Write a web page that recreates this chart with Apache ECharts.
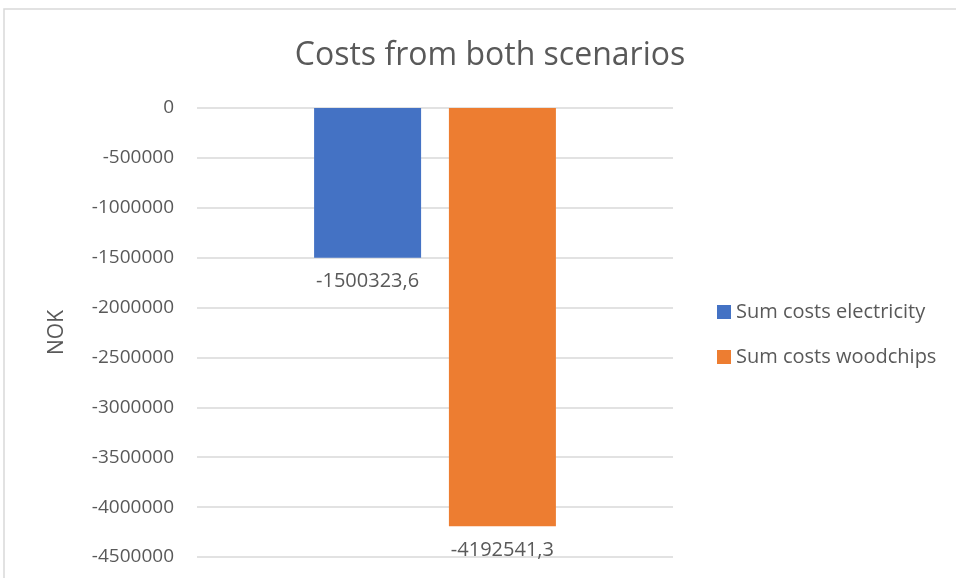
<!DOCTYPE html>
<html>
<head>
<meta charset="utf-8">
<script src="https://cdn.jsdelivr.net/npm/echarts@6/dist/echarts.min.js"></script>
<style>
  html, body { margin: 0; padding: 0; background: #fff; }
  #chart { width: 956px; height: 578px; }
</style>
</head>
<body>
<div id="chart"></div>
<script>
var categories = ['Costs'];
var electricity = [-1500323.6];
var woodchips = [-4192541.3];
var seriesNames = ['Sum costs electricity', 'Sum costs woodchips'];

var fontFam = '"Open Sans", "Noto Sans", sans-serif';
var textCol = '#595959';

function fmt(p) {
  return String(p.value).replace('.', ',');
}

var chart = echarts.init(document.getElementById('chart'));

chart.setOption({
  animation: false,
  backgroundColor: '#fff',
  graphic: [{
    type: 'rect',
    shape: { x: 4, y: 9, width: 1000, height: 600 },
    style: { fill: 'none', stroke: '#d9d9d9', lineWidth: 1.5 },
    silent: true
  }],
  title: {
    text: 'Costs from both scenarios',
    left: 485,
    textAlign: 'center',
    top: 35,
    textStyle: { fontFamily: fontFam, fontWeight: 'normal', fontSize: 32, color: textCol }
  },
  legend: {
    orient: 'vertical',
    left: 712,
    top: 297,
    itemWidth: 14,
    itemHeight: 14,
    itemGap: 25,
    icon: 'rect',
    textStyle: { fontFamily: fontFam, fontSize: 20, color: textCol },
    data: seriesNames
  },
  grid: { left: 197, right: 283, top: 108, bottom: 21, containLabel: false },
  xAxis: {
    type: 'category',
    data: categories,
    axisLine: { show: false },
    axisTick: { show: false },
    axisLabel: { show: false }
  },
  yAxis: {
    type: 'value',
    min: -4500000,
    max: 0,
    interval: 500000,
    name: 'NOK',
    nameLocation: 'middle',
    nameGap: 129,
    nameTextStyle: { fontFamily: fontFam, fontSize: 21, color: textCol },
    axisLine: { show: false },
    axisTick: { show: false },
    axisLabel: {
      fontFamily: fontFam, fontSize: 19, color: textCol, margin: 23,
      formatter: function (v) { return String(v); }
    },
    splitLine: { lineStyle: { color: '#d9d9d9', width: 1.5 } }
  },
  series: [{
    name: seriesNames[0],
    type: 'bar',
    data: electricity,
    barWidth: 107,
    barGap: '26%',
    itemStyle: { color: '#4472c4' },
    label: {
      show: true,
      position: 'bottom',
      distance: 14,
      formatter: fmt,
      fontFamily: fontFam,
      fontSize: 20,
      color: textCol
    }
  }, {
    name: seriesNames[1],
    type: 'bar',
    data: woodchips,
    barWidth: 107,
    barGap: '26%',
    itemStyle: { color: '#ed7d31' },
    label: {
      show: true,
      position: 'bottom',
      distance: 14,
      formatter: fmt,
      fontFamily: fontFam,
      fontSize: 20,
      color: textCol
    }
  }]
});
</script>
</body>
</html>
